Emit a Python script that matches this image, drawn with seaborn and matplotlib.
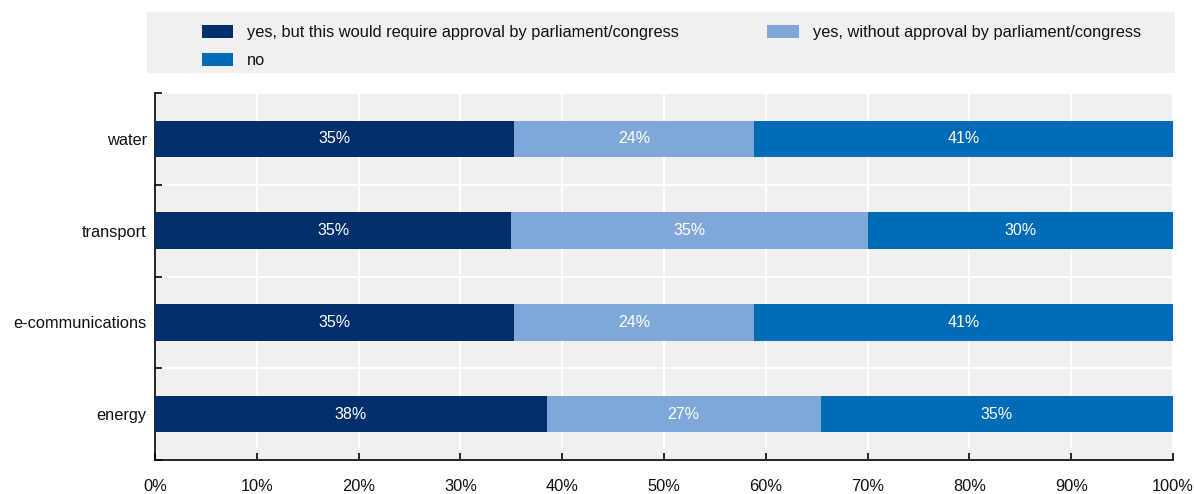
import matplotlib
matplotlib.use("Agg")
import matplotlib.pyplot as plt
from matplotlib.patches import Patch, Rectangle
from matplotlib.ticker import FixedLocator, PercentFormatter
import numpy as np
import pandas as pd
import seaborn as sns

# Share of respondents per sector (percent)
sectors = ["water", "transport", "e-communications", "energy"]
yes_with_approval = [35.29, 35.0, 35.29, 38.46]
yes_without_approval = [23.53, 35.0, 23.53, 26.92]
no_answer = [41.18, 30.0, 41.18, 34.62]
series_names = [
    "yes, but this would require approval by parliament/congress",
    "yes, without approval by parliament/congress",
    "no",
]
x_ticks = [0, 10, 20, 30, 40, 50, 60, 70, 80, 90, 100]

C_DARK = "#002F6C"
C_LIGHT = "#7FA8D9"
C_MID = "#006BB6"
BG = "#F0F0F0"
FS = 11.8

sns.set_theme(style="white")
plt.rcParams["font.family"] = ["Liberation Sans Narrow", "Liberation Sans", "DejaVu Sans"]

df = pd.DataFrame({
    "sector": sectors,
    "a": yes_with_approval,
    "b": yes_without_approval,
    "c": no_answer,
})
df["ab"] = df["a"] + df["b"]
df["abc"] = df["ab"] + df["c"]

fig = plt.figure(figsize=(11.94, 4.94), dpi=100)
ax = fig.add_axes([155 / 1194, 1 - 460 / 494, 1018 / 1194, 367 / 494])
ax.set_facecolor(BG)

# Stacked bars: draw cumulative totals from the longest down
for col, color in [("abc", C_MID), ("ab", C_LIGHT), ("a", C_DARK)]:
    sns.barplot(data=df, x=col, y="sector", order=sectors, color=color,
                width=0.4, orient="h", ax=ax, saturation=1, edgecolor="none",
                linewidth=0, zorder=3)

# Segment value labels
for i, s in enumerate(sectors):
    starts = [0, df["a"][i], df["ab"][i]]
    vals = [df["a"][i], df["b"][i], df["c"][i]]
    for st, v in zip(starts, vals):
        ax.text(st + v / 2, i, f"{v:.0f}%", ha="center", va="center",
                color="white", fontsize=11.5, zorder=4)

ax.set_xlim(0, 100)
ax.set_ylim(3.5, -0.5)
ax.set_xlabel("")
ax.set_ylabel("")
ax.xaxis.set_major_locator(FixedLocator(x_ticks))
ax.xaxis.set_major_formatter(PercentFormatter(decimals=0))
ax.yaxis.set_minor_locator(FixedLocator([-0.5, 0.5, 1.5, 2.5, 3.5]))

ax.grid(axis="x", which="major", color="white", linewidth=1.5, zorder=1)
ax.grid(axis="y", which="minor", color="white", linewidth=1.5, zorder=1)
ax.grid(axis="y", which="major", visible=False)
ax.set_axisbelow(True)

for side in ["top", "right"]:
    ax.spines[side].set_visible(False)
for side in ["left", "bottom"]:
    ax.spines[side].set_color("black")
    ax.spines[side].set_linewidth(1.2)

ax.tick_params(axis="x", which="major", direction="in", length=5, width=1.2,
               color="black", labelsize=FS, pad=14, bottom=True)
ax.tick_params(axis="y", which="major", length=0, labelsize=FS, pad=6)
ax.tick_params(axis="y", which="minor", direction="in", length=5, width=1.2,
               color="black", left=True)
for lbl in ax.get_xticklabels() + ax.get_yticklabels():
    lbl.set_color("#111111")

# Legend panel
fig.patches.append(Rectangle((147 / 1194, 1 - 73 / 494), 1028 / 1194, 61 / 494,
                             transform=fig.transFigure, facecolor=BG,
                             edgecolor="none", zorder=0))
handles = [Patch(facecolor=c, edgecolor="none") for c in (C_DARK, C_LIGHT, C_MID)]
order = [0, 2, 1]
fig.legend([handles[k] for k in order], [series_names[k] for k in order],
           ncol=2, loc="upper left", bbox_to_anchor=(202 / 1194, 1 - 25 / 494),
           frameon=False, fontsize=FS, handlelength=1.9, handleheight=0.85,
           handletextpad=0.85, columnspacing=5.4, labelspacing=0.75,
           borderaxespad=0, borderpad=0, labelcolor="#111111")

fig.savefig("out.png", dpi=100)
